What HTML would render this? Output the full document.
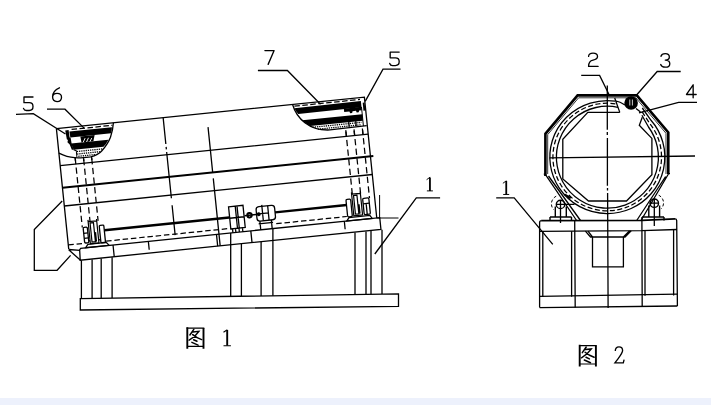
<!DOCTYPE html>
<html><head><meta charset="utf-8">
<style>
html,body{margin:0;padding:0;background:#fff;}
body{width:711px;height:405px;overflow:hidden;font-family:"Liberation Serif",serif;}
svg{display:block;}
.t{fill:none;stroke:#000;stroke-width:1.3;stroke-linecap:butt;stroke-linejoin:miter;}
.m{fill:none;stroke:#000;stroke-width:1.6;}
.k{fill:none;stroke:#000;stroke-width:2.6;stroke-linejoin:miter;}
.d{fill:none;stroke:#000;stroke-width:1.25;stroke-dasharray:4 3;}
.g{fill:none;stroke:#000;stroke-width:1.4;stroke-linecap:round;stroke-linejoin:round;}
.b{fill:#000;stroke:none;}
.w{fill:#fff;stroke:#111;stroke-width:1.1;}
</style></head><body>
<svg width="711" height="405" viewBox="0 0 711 405">
<rect x="0" y="0" width="711" height="405" fill="#ffffff"/>
<rect x="0" y="398" width="711" height="7" fill="#edf1fc"/>

<!-- ============ FIG 1 ============ -->
<!-- chute -->
<path class="t" d="M62.2,201 L34.3,229.5 L34.3,270.3 L57.1,270.3 L70.6,255.4"/>
<!-- base plate -->
<path class="t" d="M80.3,298.6 L398.5,293.9 L398.5,306.3 L80.3,310 Z"/>
<!-- legs left -->
<path class="t" d="M81.4,260.4 V298.5 M92.1,259.4 V298.4 M101.2,258.4 V298.3 M112.1,257.3 V298.1"/>
<!-- legs middle -->
<path class="t" d="M230.7,233 V296.4 M241.4,244 V296.2 M261.1,242 V295.9 M272.9,228.7 V295.8"/>
<!-- legs right -->
<path class="t" d="M355,232.5 V294.5 M366,231.4 V294.4 M371,230.9 V294.3 M382,229.7 V294.1"/>
<!-- gusset at left -->
<path class="t" d="M68.7,249.5 L80,250.4 M68.7,249.8 L80.8,260.5"/>
<!-- right side thin lines -->
<path class="t" d="M379.6,195 V219 M376.5,218 H398.5" style="stroke-width:1"/>

<g transform="translate(56.4,128.6) rotate(-5.84)">
  <!-- drum outline -->
  <path class="t" d="M0,0 H309.6 V121.5 M0,0 V121.2"/>
  <!-- beam -->
  <path class="t" d="M10.8,123 L12,121.5 H312.6 V133.3 H10.3 Z"/>
  <path class="t" d="M44.5,121.5 V133.3 M80,121.5 v8.5 M148.5,121.5 V133.3 M183,121.5 V133.3 M277,121.5 v8"/>
  <!-- longitudinal lines -->
  <path class="t" d="M0,37.2 H309.6 M0,77.8 H309.6"/>
  <path class="m" d="M0,59.5 H312.5" style="stroke-width:2"/>
  <!-- hidden bottom -->
  <path class="d" d="M0,117 H16 M38,117 H163 M209,117 H280" style="stroke-dasharray:5.5 2.8"/>
  <!-- shaft -->
  <path class="k" d="M37.5,106 H163" style="stroke-width:2.5"/><path class="k" d="M209,105.6 H281" style="stroke-width:2.4"/>
  <!-- hidden verticals -->
  <path class="d" d="M15.7,31 V101 M24,33 V96 M32.1,33 V96" style="stroke-dasharray:6.3 3.4"/>
  <path class="d" d="M287.7,31 V96 M296,31 V96 M304.4,31 V101" style="stroke-dasharray:6.3 3.4"/>
  <!-- section lines -->
  <path class="t" d="M107.3,0 V26.5 M107.3,29.3 V31.8 M107.3,34.5 V81 M107.3,88 V118"/>
  <path class="t" d="M151,14 V59.5 M151,65.5 V133.3"/>

  <!-- left cutaway -->
  <path class="t" d="M0,24.7 C5,28 10,30 15.3,30.7 C22,31.8 28,32 31.2,31.7 C36,31 40,29.5 43,26.7 C48,22 51,18 52.9,14.1 C55,9.5 56.5,5 57.3,0"/>
  <path class="b" d="M12.6,4.2 H55.4 Q55,7.5 54,10.2 H13 Z"/>
  <path class="b" d="M13,16.3 H50.6 Q48,20.5 45,22.8 H15 Z"/>
  <path class="b" d="M8.6,2.7 h3.4 l0.2,7.5 h1 l0.4,6 l1.4,6.5 h-1.8 l-1.6,-5.5 l-2,-2.4 l0.7,-2.2 l-1,-1 z"/>
  <path class="d" d="M15,2.4 H56" style="stroke-dasharray:5.5 2.5"/>
  <path class="b" d="M23,10.2 H37.4 L35.5,16.3 H23.6 Z"/>
  <path d="M25.2,16.4 l2.4,-4 M28.6,16.4 l2.4,-4 M32,16.4 l2.2,-3.4" stroke="#fff" stroke-width="0.9" fill="none"/>
  <path class="t" d="M15,22.8 L17.5,24 V30.6" style="stroke-width:1"/>
  <g style="stroke:#000;stroke-width:1.3;stroke-dasharray:1.3 0.9;fill:none">
   <path d="M18,24.9 H43.5 M18,27.4 H41 M19,29.8 H36"/>
  </g>
  <path class="t" d="M15.7,31.2 v3 M24,32 v3 M32.1,31.8 v3"/>

  <!-- right cutaway -->
  <path class="t" d="M237.4,0 C240,14 251,28 272,29.2 L309,28.6"/>
  <path class="b" d="M238.8,4 L305.7,3.5 V9.7 L242,10.2 Q240,7.5 238.8,4 Z"/>
  <path class="b" d="M245.5,16.7 L305.7,16.9 V23.3 L252.5,23.1 Q248.5,20.5 245.5,16.7 Z"/>
  <path class="b" d="M288,9.4 H305.7 V12.8 H303 l-0.6,1.8 h-2 l-0.6,-1.8 h-3.4 l-0.6,1.8 h-2 l-0.6,-1.8 H288 Z"/>
  <path class="b" d="M307.3,5.5 h1.9 v8 h-1.9 z"/>
  <path class="d" d="M239,1.9 H305" style="stroke-dasharray:5.5 2.5"/>
  <path class="t" d="M305.7,9.6 V28.6" style="stroke-width:1"/>
  <g style="stroke:#000;stroke-width:1.3;stroke-dasharray:1.3 0.9;fill:none">
   <path d="M255,24.8 H304 M260,27.2 H303"/>
  </g>
  <path class="t" d="M291.5,23 v5 M298.5,23 v5 M287.7,32.5 v4.7 M296,32.5 v4.7 M304.4,32.5 v4.7"/>

  <!-- left bearing -->
  <path class="t" d="M22.1,94 V118 H30.7 V94 M22.1,95.8 H30.7 M23.9,97.3 H27.3 V116.5 H23.9 Z M28.4,107 V116.5" style="stroke-width:1.2"/>
  <rect class="t" x="16.5" y="101" width="4.2" height="15.8" rx="1.2" style="stroke-width:1.3"/>
  <rect class="t" x="32.7" y="100.7" width="4.6" height="17.5" rx="1" style="stroke-width:1.3"/>
  <path class="t" d="M16.5,107 h4.2 M16.5,112 h4.2 M20.7,115 H22.1 M30.7,115 H32.7"/>
  <path class="t" d="M19.5,118.3 H38 L40.5,121.5 H17 Z" style="stroke-width:1.3"/>

  <!-- right bearing -->
  <path class="t" d="M287,93.5 V117 H295.8 V93.5 M287,95.3 H295.8 M288.8,96.8 H292.2 V115.5 H288.8 Z M293.4,106 V115.5" style="stroke-width:1.2"/>
  <rect class="t" x="280.8" y="100" width="4.7" height="17.5" rx="1.2" style="stroke-width:1.3"/>
  <rect class="t" x="297.5" y="100.6" width="6.2" height="16.4" rx="1.2" style="stroke-width:1.3"/>
  <path class="t" d="M297.5,106 h6 M300.5,106 V117"/>
  <path class="t" d="M282,118.3 H303 L305,121.5 H279.5 Z" style="stroke-width:1.3"/>

  <!-- gearbox -->
  <path class="t" d="M163.3,95.3 H177.8 V117.6 H163.3 Z M170,95.3 V117.6 M171.8,95.3 V117.6 M163.3,106.8 H177.8 M165,117.6 V121.5 M168,117.6 V121.5 M171.5,117.6 V121.5 M175,117.6 V121.5" style="stroke-width:1.3"/>
  <!-- coupling -->
  <circle class="t" cx="183.3" cy="105.8" r="2.2" style="stroke-width:2"/><circle class="b" cx="192.6" cy="105.8" r="1.9"/>
  <path class="m" d="M178.3,105.8 H190.4"/>
  <!-- motor -->
  <rect class="t" x="190.4" y="98.3" width="18.6" height="14.4" rx="3" style="stroke-width:1.3"/>
  <path class="t" d="M196.5,96.8 V112.7 M202.3,98.3 V112.7 M190.4,105.5 H202.3 M193,112.7 V121.5 M204.5,112.7 V121.5 M191.5,115.3 H206" style="stroke-width:1.3"/>
</g>

<!-- leaders fig 1 -->
<path class="t" d="M16,114.3 L33.3,113.7 L65.5,134"/>
<path class="t" d="M47,109.2 L65,109.2 L84.1,128.1"/>
<path class="t" d="M257.9,70.5 H287.4 L320.5,104.2"/>
<path class="t" d="M400.5,69.2 H383 L365.2,101.4"/>
<path class="t" d="M440.1,197.8 H416.3 L374.8,254"/>
<!-- digits fig1 -->
<g class="g">
 <path transform="translate(23.5,97.0) scale(0.95)" d="M10,0 H0.5 V6 H6 C8.5,6 10,7.8 10,10 C10,12.5 8.5,14.2 6,14.2 H3 C1.5,14.2 0.5,13.5 0,12"/>
 <path transform="translate(52.3,87.8) scale(0.95)" d="M7.5,0 C4,1.5 0.3,5 0.3,9.5 C0.3,12.5 2.2,14.5 5,14.5 C7.8,14.5 9.7,12.7 9.7,10 C9.7,7.5 7.8,5.8 5,5.8 C2.5,5.8 0.5,7.5 0.3,9.5"/>
 <path transform="translate(264.9,50.6) scale(0.95)" d="M0,0 H9.7 L3.4,14.5"/>
 <path transform="translate(389.7,52.1) scale(0.95)" d="M10,0 H0.5 V6 H6 C8.5,6 10,7.8 10,10 C10,12.5 8.5,14.2 6,14.2 H3 C1.5,14.2 0.5,13.5 0,12"/>
 <g transform="translate(426.9,177.2) scale(0.95)"><path d="M3.2,0.2 V14.4" style="stroke-width:1.9;stroke-linecap:butt"/><path d="M0,2.4 L3,0.2 M0.4,14.4 H5.9" style="stroke-width:1"/></g>
</g>

<!-- ============ FIG 2 ============ -->
<!-- centerlines -->
<path class="t" d="M607.3,85.5 V129.8 M607.3,132 V135 M607.4,137.9 V185.7 M607.5,188 V190.5 M607.6,193 L608.1,308"/>
<path class="t" d="M549.5,157.8 L695,156"/>
<!-- outer octagon thick -->
<path class="k" d="M545.4,176 V133.8 L577.6,95.4 H636.8 L668.3,132.4 V174"/>
<path class="t" d="M547.7,174 V134.6 L578.6,97.8 H635.8 L666,133.3 V174" style="stroke-width:0.8"/>
<!-- lower diagonals of outer -->
<path class="t" d="M545.5,174.6 L576.6,220.5 M548.5,176 L580.5,220.5 M543.8,174.2 h2"/>
<path class="t" d="M668.4,174 L641,220.5 M665.6,176.5 L636.7,220.5 M668,173.6 h2"/>
<!-- ring -->
<path class="t" d="M642.3,108 L651,120.3 A57.5,56.5 0 1 1 615.2,101.1"/>
<path class="t" d="M641.9,115.2 L648.5,127 A51,51 0 1 1 618,107.3"/>
<path class="d" d="M642,111.6 L649.8,123.6 A54.3,53.8 0 1 1 616.6,104" style="stroke-dasharray:5 2.5"/>
<path class="t" d="M614.7,98 L619.8,112.4 M615.4,100.8 Q620,101.5 625,105"/>
<path class="t" d="M636,108.5 L640.5,112"/>
<!-- inner octagon -->
<path class="t" d="M619.8,112.4 H587.8 L562.8,139.3 V179 L588.5,201 H626.5 L651.9,174.8 V138.4 L639.3,125.3 L642.3,117.3"/>
<!-- black circle -->
<circle class="b" cx="631.1" cy="103" r="6.8"/>
<path d="M629.8,99.5 v6 M632.4,99.5 v6" stroke="#fff" stroke-width="0.8" fill="none"/>

<!-- rollers -->
<circle class="t" cx="560.5" cy="204.4" r="4.2" style="stroke-width:1.4"/>
<path class="t" d="M556,204.4 H574.5 M560.5,200 V223"/>
<path class="t" d="M555.3,206.5 V217 M566.3,206.5 V217 M550,217 H571.5 M550,217 V220.5 M571.5,217 V220.5" style="stroke-width:1.4"/>
<path class="d" d="M556.2,196.2 A8.6,8.6 0 0 0 553.6,209.6" style="stroke-dasharray:3 2;stroke-width:1"/>
<path class="m" d="M564.8,194.6 L570.7,198.3" style="stroke-width:2.2"/>
<circle class="t" cx="654.3" cy="203.2" r="4.2" style="stroke-width:1.4"/>
<path class="t" d="M649.5,203.2 H659 M654.3,199 V226"/>
<path class="t" d="M648.8,205.5 V217 M659.6,205.5 V217 M642,217 H664 M642,217 V220.5 M664,217 V220.5" style="stroke-width:1.4"/>
<path class="d" d="M658.7,195.2 A8.6,8.6 0 0 1 661.2,208.8" style="stroke-dasharray:3 2;stroke-width:1"/>

<!-- frame -->
<path class="m" d="M541.2,220.7 L642,220.3 L675,218.9" style="stroke-width:1.7"/>
<path class="t" d="M539.6,307.6 V222.6 Q539.6,220.7 541.5,220.7 M675,218.9 Q676.6,218.9 676.7,220.6 L677.4,306"/>
<path class="t" d="M539.6,231.3 L642,230.7 L677,229.5 M539.6,296.4 L677.3,294.2 M539.6,307.6 L677.4,306"/>
<path class="t" d="M542.8,231.3 V297 M571.6,231.3 V296.8 M574.7,220.7 L575.2,307.6 M641.9,220.4 L642.2,306.6 M645,230.7 V295.8 M673.6,229.6 V295.4"/>
<!-- funnel -->
<path class="t" d="M585.4,231.1 L590.5,237 H625 L631.2,230.8 M588,231.1 L592.5,237 M629.6,230.8 L623.4,237 M592.5,237 V266.8 H623.4 V237"/>

<!-- leaders fig2 -->
<path class="t" d="M581.2,75.4 H599.6 L609,94.5"/>
<path class="t" d="M680.7,71.5 H657.2 L636.8,94.8"/>
<path class="t" d="M697,102.4 H678.6 L639,112.8"/>
<path class="t" d="M496.2,197.8 H514.2 L552.8,244.4"/>
<g class="g">
 <path transform="translate(588.3,53.1) scale(0.95)" d="M0.3,3.5 C0.3,1.3 2,0 5,0 C8,0 9.7,1.3 9.7,3.6 C9.7,6 8,6.8 5,7.3 C1.5,7.9 0.3,9.5 0.3,14 H10.3"/>
 <path transform="translate(660.5,53.6) scale(0.95)" d="M0.5,2.8 C1,1 2.5,0 5,0 C7.8,0 9.3,1.3 9.3,3.5 C9.3,5.6 7.8,6.8 5,6.8 C8,6.8 9.8,8.3 9.8,10.6 C9.8,13 8,14.3 5,14.3 C2.5,14.3 0.8,13.3 0.2,11.5"/>
 <path transform="translate(686.5,84.8) scale(0.95)" d="M7,0 L0,10.2 H10.2 M7,0 V13.6"/>
 <g transform="translate(503.2,180.8) scale(0.95)"><path d="M3.2,0.2 V14.4" style="stroke-width:1.9;stroke-linecap:butt"/><path d="M0,2.4 L3,0.2 M0.4,14.4 H5.9" style="stroke-width:1"/></g>
</g>

<!-- captions -->

<g transform="translate(186.3,327.2)" fill="none" stroke="#000">
 <path d="M1,0 V21.6 M17.2,0.8 V21.6" stroke-width="1.9"/>
 <path d="M0.3,0.9 H18 M1,19.2 H17.2" stroke-width="1.15"/>
 <path d="M7.5,2.2 L3.6,7.8 M6.7,4.7 L12.6,4.1 Q9,9.5 2.8,13 M6.4,7.4 Q10,10.5 15.4,12.4 M7.3,12.5 L10.7,14.1 M5.6,15.2 L11.8,17.9" stroke-width="1.5" stroke-linecap="round"/>
</g>
<g transform="translate(222.9,329.6)">
 <path d="M4.3,0.2 V16 " stroke="#000" stroke-width="1.9" fill="none"/>
 <path d="M0.6,2.6 L4,0.4 M0.6,16.1 H8" stroke="#000" stroke-width="1.1" fill="none"/>
</g>
<g transform="translate(578.7,344.8)" fill="none" stroke="#000">
 <path d="M1,0 V21.6 M17.2,0.8 V21.6" stroke-width="1.9"/>
 <path d="M0.3,0.9 H18 M1,19.2 H17.2" stroke-width="1.15"/>
 <path d="M7.5,2.2 L3.6,7.8 M6.7,4.7 L12.6,4.1 Q9,9.5 2.8,13 M6.4,7.4 Q10,10.5 15.4,12.4 M7.3,12.5 L10.7,14.1 M5.6,15.2 L11.8,17.9" stroke-width="1.5" stroke-linecap="round"/>
</g>
<g transform="translate(614,346.2)">
 <path d="M1.3,4.8 C1.3,2 2.8,0.6 5,0.6 C7.2,0.6 8.6,2 8.6,4.4 C8.6,7.5 5.5,10.5 0.9,16.6 H9.3 L10.1,13.4" stroke="#000" stroke-width="1.35" fill="none"/>
</g>
</svg>
</body></html>
